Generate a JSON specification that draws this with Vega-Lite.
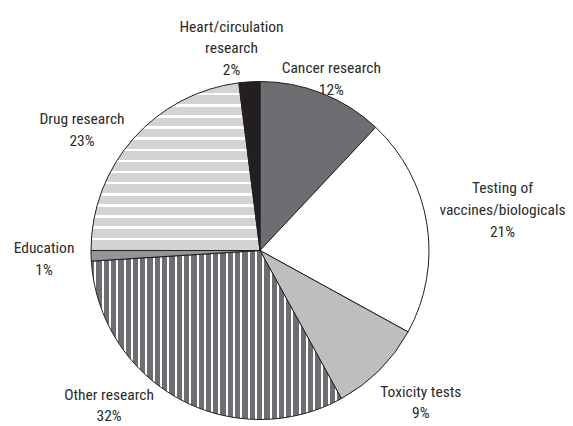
{
  "$schema": "https://vega.github.io/schema/vega-lite/v6.json",
  "width": 520,
  "height": 341,
  "autosize": {"type": "none"},
  "padding": {"left": 0, "top": 80, "right": 53, "bottom": 5},
  "background": "#ffffff",
  "config": {"view": {"stroke": null}},
  "data": {
    "values": [
      {"category": "Cancer research", "order": 1, "value": 12, "label": "Cancer research\n12%"},
      {"category": "Testing of vaccines/biologicals", "order": 2, "value": 21, "label": "Testing of\nvaccines/biologicals\n21%"},
      {"category": "Toxicity tests", "order": 3, "value": 9, "label": "Toxicity tests\n9%"},
      {"category": "Other research", "order": 4, "value": 32, "label": "Other research\n32%"},
      {"category": "Education", "order": 5, "value": 1, "label": "Education\n1%"},
      {"category": "Drug research", "order": 6, "value": 23, "label": "Drug research\n23%"},
      {"category": "Heart/circulation research", "order": 7, "value": 2, "label": "Heart/circulation\nresearch\n2%"}
    ]
  },
  "layer": [
    {
      "mark": {"type": "arc", "outerRadius": 169, "stroke": "#231f20", "strokeWidth": 1},
      "encoding": {
        "theta": {"field": "value", "type": "quantitative", "stack": true},
        "order": {"field": "order", "type": "quantitative"},
        "fill": {
          "field": "category",
          "type": "nominal",
          "legend": null,
          "scale": {
            "domain": ["Cancer research", "Testing of vaccines/biologicals", "Toxicity tests", "Other research", "Education", "Drug research", "Heart/circulation research"],
            "range": ["#6d6e71", "#ffffff", "#bcbec0", "#6d6e71", "#939598", "#d1d3d4", "#231f20"]
          },
          "condition": [
            {
              "test": "datum.category === 'Drug research'",
              "value": {
                "gradient": "linear", "x1": 0, "y1": 0, "x2": 0, "y2": 1,
                "stops": [
                  {"offset": 0, "color": "#ffffff"}, {"offset": 0.0084, "color": "#ffffff"}, {"offset": 0.0084, "color": "#d1d3d4"},
                  {"offset": 0.0599, "color": "#d1d3d4"}, {"offset": 0.0599, "color": "#ffffff"}, {"offset": 0.0748, "color": "#ffffff"}, {"offset": 0.0748, "color": "#d1d3d4"},
                  {"offset": 0.1263, "color": "#d1d3d4"}, {"offset": 0.1263, "color": "#ffffff"}, {"offset": 0.1412, "color": "#ffffff"}, {"offset": 0.1412, "color": "#d1d3d4"},
                  {"offset": 0.1928, "color": "#d1d3d4"}, {"offset": 0.1928, "color": "#ffffff"}, {"offset": 0.2076, "color": "#ffffff"}, {"offset": 0.2076, "color": "#d1d3d4"},
                  {"offset": 0.2592, "color": "#d1d3d4"}, {"offset": 0.2592, "color": "#ffffff"}, {"offset": 0.2740, "color": "#ffffff"}, {"offset": 0.2740, "color": "#d1d3d4"},
                  {"offset": 0.3256, "color": "#d1d3d4"}, {"offset": 0.3256, "color": "#ffffff"}, {"offset": 0.3404, "color": "#ffffff"}, {"offset": 0.3404, "color": "#d1d3d4"},
                  {"offset": 0.3920, "color": "#d1d3d4"}, {"offset": 0.3920, "color": "#ffffff"}, {"offset": 0.4068, "color": "#ffffff"}, {"offset": 0.4068, "color": "#d1d3d4"},
                  {"offset": 0.4584, "color": "#d1d3d4"}, {"offset": 0.4584, "color": "#ffffff"}, {"offset": 0.4732, "color": "#ffffff"}, {"offset": 0.4732, "color": "#d1d3d4"},
                  {"offset": 0.5248, "color": "#d1d3d4"}, {"offset": 0.5248, "color": "#ffffff"}, {"offset": 0.5396, "color": "#ffffff"}, {"offset": 0.5396, "color": "#d1d3d4"},
                  {"offset": 0.5912, "color": "#d1d3d4"}, {"offset": 0.5912, "color": "#ffffff"}, {"offset": 0.6060, "color": "#ffffff"}, {"offset": 0.6060, "color": "#d1d3d4"},
                  {"offset": 0.6576, "color": "#d1d3d4"}, {"offset": 0.6576, "color": "#ffffff"}, {"offset": 0.6724, "color": "#ffffff"}, {"offset": 0.6724, "color": "#d1d3d4"},
                  {"offset": 0.7240, "color": "#d1d3d4"}, {"offset": 0.7240, "color": "#ffffff"}, {"offset": 0.7388, "color": "#ffffff"}, {"offset": 0.7388, "color": "#d1d3d4"},
                  {"offset": 0.7904, "color": "#d1d3d4"}, {"offset": 0.7904, "color": "#ffffff"}, {"offset": 0.8052, "color": "#ffffff"}, {"offset": 0.8052, "color": "#d1d3d4"},
                  {"offset": 0.8568, "color": "#d1d3d4"}, {"offset": 0.8568, "color": "#ffffff"}, {"offset": 0.8716, "color": "#ffffff"}, {"offset": 0.8716, "color": "#d1d3d4"},
                  {"offset": 0.9232, "color": "#d1d3d4"}, {"offset": 0.9232, "color": "#ffffff"}, {"offset": 0.9380, "color": "#ffffff"}, {"offset": 0.9380, "color": "#d1d3d4"},
                  {"offset": 1, "color": "#d1d3d4"}
                ]
              }
            },
            {
              "test": "datum.category === 'Other research'",
              "value": {
                "gradient": "linear", "x1": 0, "y1": 0, "x2": 1, "y2": 0,
                "stops": [
                  {"offset": 0, "color": "#6d6e71"},
                  {"offset": 0.0120, "color": "#6d6e71"}, {"offset": 0.0120, "color": "#ffffff"}, {"offset": 0.0200, "color": "#ffffff"}, {"offset": 0.0200, "color": "#6d6e71"},
                  {"offset": 0.0412, "color": "#6d6e71"}, {"offset": 0.0412, "color": "#ffffff"}, {"offset": 0.0492, "color": "#ffffff"}, {"offset": 0.0492, "color": "#6d6e71"},
                  {"offset": 0.0704, "color": "#6d6e71"}, {"offset": 0.0704, "color": "#ffffff"}, {"offset": 0.0784, "color": "#ffffff"}, {"offset": 0.0784, "color": "#6d6e71"},
                  {"offset": 0.0996, "color": "#6d6e71"}, {"offset": 0.0996, "color": "#ffffff"}, {"offset": 0.1076, "color": "#ffffff"}, {"offset": 0.1076, "color": "#6d6e71"},
                  {"offset": 0.1288, "color": "#6d6e71"}, {"offset": 0.1288, "color": "#ffffff"}, {"offset": 0.1368, "color": "#ffffff"}, {"offset": 0.1368, "color": "#6d6e71"},
                  {"offset": 0.1580, "color": "#6d6e71"}, {"offset": 0.1580, "color": "#ffffff"}, {"offset": 0.1660, "color": "#ffffff"}, {"offset": 0.1660, "color": "#6d6e71"},
                  {"offset": 0.1872, "color": "#6d6e71"}, {"offset": 0.1872, "color": "#ffffff"}, {"offset": 0.1952, "color": "#ffffff"}, {"offset": 0.1952, "color": "#6d6e71"},
                  {"offset": 0.2164, "color": "#6d6e71"}, {"offset": 0.2164, "color": "#ffffff"}, {"offset": 0.2244, "color": "#ffffff"}, {"offset": 0.2244, "color": "#6d6e71"},
                  {"offset": 0.2456, "color": "#6d6e71"}, {"offset": 0.2456, "color": "#ffffff"}, {"offset": 0.2536, "color": "#ffffff"}, {"offset": 0.2536, "color": "#6d6e71"},
                  {"offset": 0.2748, "color": "#6d6e71"}, {"offset": 0.2748, "color": "#ffffff"}, {"offset": 0.2828, "color": "#ffffff"}, {"offset": 0.2828, "color": "#6d6e71"},
                  {"offset": 0.3040, "color": "#6d6e71"}, {"offset": 0.3040, "color": "#ffffff"}, {"offset": 0.3120, "color": "#ffffff"}, {"offset": 0.3120, "color": "#6d6e71"},
                  {"offset": 0.3332, "color": "#6d6e71"}, {"offset": 0.3332, "color": "#ffffff"}, {"offset": 0.3412, "color": "#ffffff"}, {"offset": 0.3412, "color": "#6d6e71"},
                  {"offset": 0.3624, "color": "#6d6e71"}, {"offset": 0.3624, "color": "#ffffff"}, {"offset": 0.3704, "color": "#ffffff"}, {"offset": 0.3704, "color": "#6d6e71"},
                  {"offset": 0.3916, "color": "#6d6e71"}, {"offset": 0.3916, "color": "#ffffff"}, {"offset": 0.3996, "color": "#ffffff"}, {"offset": 0.3996, "color": "#6d6e71"},
                  {"offset": 0.4208, "color": "#6d6e71"}, {"offset": 0.4208, "color": "#ffffff"}, {"offset": 0.4288, "color": "#ffffff"}, {"offset": 0.4288, "color": "#6d6e71"},
                  {"offset": 0.4500, "color": "#6d6e71"}, {"offset": 0.4500, "color": "#ffffff"}, {"offset": 0.4580, "color": "#ffffff"}, {"offset": 0.4580, "color": "#6d6e71"},
                  {"offset": 0.4792, "color": "#6d6e71"}, {"offset": 0.4792, "color": "#ffffff"}, {"offset": 0.4872, "color": "#ffffff"}, {"offset": 0.4872, "color": "#6d6e71"},
                  {"offset": 0.5084, "color": "#6d6e71"}, {"offset": 0.5084, "color": "#ffffff"}, {"offset": 0.5164, "color": "#ffffff"}, {"offset": 0.5164, "color": "#6d6e71"},
                  {"offset": 0.5376, "color": "#6d6e71"}, {"offset": 0.5376, "color": "#ffffff"}, {"offset": 0.5456, "color": "#ffffff"}, {"offset": 0.5456, "color": "#6d6e71"},
                  {"offset": 0.5668, "color": "#6d6e71"}, {"offset": 0.5668, "color": "#ffffff"}, {"offset": 0.5748, "color": "#ffffff"}, {"offset": 0.5748, "color": "#6d6e71"},
                  {"offset": 0.5960, "color": "#6d6e71"}, {"offset": 0.5960, "color": "#ffffff"}, {"offset": 0.6040, "color": "#ffffff"}, {"offset": 0.6040, "color": "#6d6e71"},
                  {"offset": 0.6252, "color": "#6d6e71"}, {"offset": 0.6252, "color": "#ffffff"}, {"offset": 0.6332, "color": "#ffffff"}, {"offset": 0.6332, "color": "#6d6e71"},
                  {"offset": 0.6544, "color": "#6d6e71"}, {"offset": 0.6544, "color": "#ffffff"}, {"offset": 0.6624, "color": "#ffffff"}, {"offset": 0.6624, "color": "#6d6e71"},
                  {"offset": 0.6835, "color": "#6d6e71"}, {"offset": 0.6835, "color": "#ffffff"}, {"offset": 0.6915, "color": "#ffffff"}, {"offset": 0.6915, "color": "#6d6e71"},
                  {"offset": 0.7127, "color": "#6d6e71"}, {"offset": 0.7127, "color": "#ffffff"}, {"offset": 0.7207, "color": "#ffffff"}, {"offset": 0.7207, "color": "#6d6e71"},
                  {"offset": 0.7419, "color": "#6d6e71"}, {"offset": 0.7419, "color": "#ffffff"}, {"offset": 0.7499, "color": "#ffffff"}, {"offset": 0.7499, "color": "#6d6e71"},
                  {"offset": 0.7711, "color": "#6d6e71"}, {"offset": 0.7711, "color": "#ffffff"}, {"offset": 0.7791, "color": "#ffffff"}, {"offset": 0.7791, "color": "#6d6e71"},
                  {"offset": 0.8003, "color": "#6d6e71"}, {"offset": 0.8003, "color": "#ffffff"}, {"offset": 0.8083, "color": "#ffffff"}, {"offset": 0.8083, "color": "#6d6e71"},
                  {"offset": 0.8295, "color": "#6d6e71"}, {"offset": 0.8295, "color": "#ffffff"}, {"offset": 0.8375, "color": "#ffffff"}, {"offset": 0.8375, "color": "#6d6e71"},
                  {"offset": 0.8587, "color": "#6d6e71"}, {"offset": 0.8587, "color": "#ffffff"}, {"offset": 0.8667, "color": "#ffffff"}, {"offset": 0.8667, "color": "#6d6e71"},
                  {"offset": 0.8879, "color": "#6d6e71"}, {"offset": 0.8879, "color": "#ffffff"}, {"offset": 0.8959, "color": "#ffffff"}, {"offset": 0.8959, "color": "#6d6e71"},
                  {"offset": 0.9171, "color": "#6d6e71"}, {"offset": 0.9171, "color": "#ffffff"}, {"offset": 0.9251, "color": "#ffffff"}, {"offset": 0.9251, "color": "#6d6e71"},
                  {"offset": 0.9463, "color": "#6d6e71"}, {"offset": 0.9463, "color": "#ffffff"}, {"offset": 0.9543, "color": "#ffffff"}, {"offset": 0.9543, "color": "#6d6e71"},
                  {"offset": 0.9755, "color": "#6d6e71"}, {"offset": 0.9755, "color": "#ffffff"}, {"offset": 0.9835, "color": "#ffffff"}, {"offset": 0.9835, "color": "#6d6e71"},
                  {"offset": 1, "color": "#6d6e71"}
                ]
              }
            }
          ]
        }
      }
    },
    {
      "mark": {
        "type": "text",
        "lineBreak": "\n",
        "font": "Roboto Condensed, Roboto, sans-serif",
        "fontSize": 15.5,
        "fontWeight": 400,
        "lineHeight": 21.7,
        "fill": "#2b2b2b",
        "align": "center",
        "baseline": "middle",
        "radius": {"expr": "datum.category === 'Heart/circulation research' ? 203.6 : datum.category === 'Cancer research' ? 185.5 : datum.category === 'Testing of vaccines/biologicals' ? 245.9 : datum.category === 'Toxicity tests' ? 221.2 : datum.category === 'Other research' ? 210.8 : datum.category === 'Education' ? 216.1 : 213.2"},
        "dx": {"expr": "datum.category === 'Heart/circulation research' ? -15.7 : datum.category === 'Cancer research' ? 3 : datum.category === 'Testing of vaccines/biologicals' ? -0.4 : datum.category === 'Toxicity tests' ? 4.4 : datum.category === 'Other research' ? -49.4 : datum.category === 'Education' ? 0 : -18.1"},
        "dy": {"expr": "datum.category === 'Heart/circulation research' ? -20.7 : datum.category === 'Cancer research' ? -9.65 : datum.category === 'Testing of vaccines/biologicals' ? -23.7 : datum.category === 'Toxicity tests' ? -15.25 : datum.category === 'Other research' ? -40.5 : datum.category === 'Education' ? -9.15 : 9.65"}
      },
      "encoding": {
        "theta": {"field": "value", "type": "quantitative", "stack": true},
        "order": {"field": "order", "type": "quantitative"},
        "detail": {"field": "category", "type": "nominal"},
        "text": {"field": "label", "type": "nominal"}
      }
    }
  ]
}
